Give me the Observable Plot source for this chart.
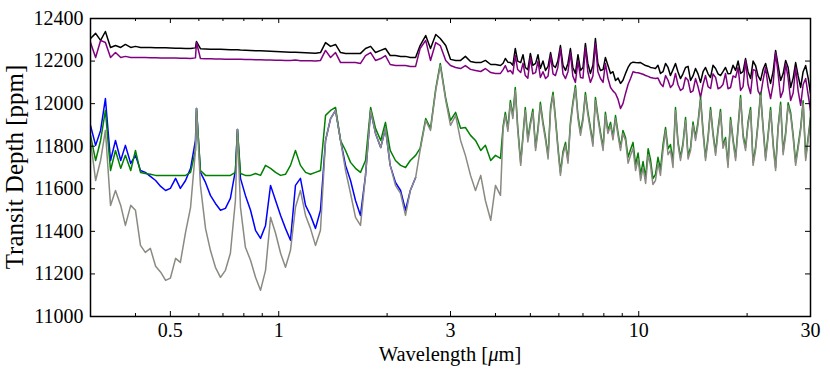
<!DOCTYPE html>
<html><head><meta charset="utf-8">
<script src="https://cdn.jsdelivr.net/npm/d3@7"></script>
<script src="https://cdn.jsdelivr.net/npm/@observablehq/plot@0.6"></script>
<style>body{margin:0;background:#fff;}</style>
</head><body><div id="chart"></div>
<script>
const wavelength = [
0.300,0.310,0.320,0.330,0.341,0.352,0.364,0.375,0.388,0.400,
0.413,0.426,0.440,0.455,0.470,0.485,0.500,0.517,0.533,0.551,
0.569,0.587,0.591,0.606,0.626,0.646,0.667,0.689,0.711,0.734,
0.758,0.768,0.783,0.808,0.835,0.862,0.890,0.919,0.949,0.980,
1.012,1.044,1.078,1.113,1.149,1.187,1.225,1.265,1.306,1.349,
1.393,1.438,1.485,1.533,1.583,1.634,1.687,1.742,1.800,1.857,
1.920,1.979,2.04,2.11,2.18,2.25,2.32,2.40,2.47,2.56,
2.64,2.73,2.81,2.91,3.00,3.10,3.20,3.30,3.41,3.52,
3.64,3.75,3.88,4.00,4.13,
4.20,4.26,4.33,4.40,4.47,4.54,4.61,4.70,4.77,4.84,
4.92,5.00,5.08,5.17,5.25,5.33,5.42,5.51,5.60,5.69,
5.78,5.87,5.96,6.06,6.16,6.26,6.36,6.46,6.56,6.67,
6.78,6.89,7.00,7.11,7.22,7.34,7.46,7.58,7.70,7.83,
7.96,8.08,8.21,8.35,8.48,8.62,8.76,8.90,9.04,9.19,
9.34,9.49,9.64,9.80,9.96,10.12,10.28,10.45,10.62,10.78,
10.95,11.13,11.31,11.49,11.68,11.87,12.06,12.25,12.45,12.65,
12.85,13.06,13.27,13.49,13.71,13.93,14.15,14.38,14.61,14.85,
15.09,15.33,15.58,15.83,16.08,16.35,16.61,16.87,17.14,17.42,
17.70,17.99,18.28,18.58,18.88,19.18,19.49,19.80,20.12,20.45,
20.78,21.11,21.45,21.80,22.15,22.51,22.87,23.24,23.62,24.00,
24.39,24.78,25.18,25.59,26.00,26.42,26.85,27.28,27.72,28.17,
28.62,29.09,29.56,30.00];

const blackDepth = [
12306,12330,12297,12339,12264,12273,12264,12278,12264,12269,
12264,12264,12264,12263,12262,12262,12261,12260,12260,12259,
12259,12262,12292,12258,12257,12256,12256,12255,12254,12253,
12253,12253,12252,12251,12250,12249,12248,12247,12246,12245,
12244,12243,12242,12241,12240,12239,12238,12237,12240,12287,
12269,12278,12240,12236,12236,12236,12236,12259,12269,12240,
12250,12259,12226,12226,12222,12222,12217,12217,12273,12320,
12259,12325,12306,12273,12208,12203,12203,12222,12198,12193,
12193,12203,12184,12184,12179,
12190,12212,12195,12193,12180,12259,12200,12193,12230,12170,
12160,12236,12180,12189,12230,12165,12200,12156,12175,12240,
12180,12170,12200,12273,12180,12156,12190,12259,12170,12142,
12230,12156,12170,12283,12190,12142,12180,12306,12190,12156,
12160,12217,12180,12142,12150,12109,12120,12095,12110,12142,
12170,12189,12195,12193,12192,12193,12186,12179,12176,12170,
12168,12165,12180,12142,12150,12189,12170,12132,12160,12189,
12150,12118,12140,12170,12175,12109,12130,12165,12140,12100,
12150,12170,12140,12123,12180,12165,12140,12132,12150,12170,
12140,12142,12180,12156,12200,12142,12150,12212,12150,12118,
12200,12179,12130,12109,12160,12189,12140,12095,12150,12250,
12180,12109,12140,12203,12170,12076,12120,12193,12130,12076,
12150,12179,12120,12048];

const purpleDepth = [
12287,12217,12297,12287,12217,12240,12217,12222,12217,12217,
12217,12217,12216,12216,12215,12215,12214,12214,12213,12213,
12212,12215,12287,12212,12211,12211,12210,12210,12209,12209,
12208,12208,12208,12207,12207,12206,12206,12205,12205,12204,
12204,12203,12203,12205,12202,12202,12201,12200,12203,12250,
12217,12240,12193,12193,12193,12193,12189,12226,12240,12203,
12212,12226,12184,12179,12179,12179,12175,12175,12259,12297,
12203,12287,12273,12203,12179,12170,12165,12179,12161,12156,
12151,12165,12146,12142,12142,
12160,12179,12150,12156,12140,12226,12160,12146,12190,12132,
12120,12217,12140,12146,12200,12123,12150,12118,12130,12226,
12140,12132,12170,12259,12140,12118,12150,12240,12130,12100,
12200,12123,12120,12264,12150,12100,12130,12283,12150,12118,
12100,12189,12120,12076,12060,12048,12020,11977,12000,12048,
12090,12118,12150,12146,12145,12142,12138,12132,12128,12123,
12120,12118,12120,12095,12080,12132,12110,12076,12090,12142,
12090,12062,12070,12123,12110,12053,12060,12118,12080,12029,
12090,12132,12080,12071,12140,12123,12070,12076,12090,12142,
12070,12076,12130,12123,12170,12062,12080,12203,12090,12048,
12160,12156,12060,12038,12110,12170,12080,12024,12090,12240,
12140,12029,12060,12189,12120,12015,12050,12170,12060,11992,
12090,12118,12040,11968];

const greenDepth = [
11851,11733,11827,11968,11686,11780,11696,11757,11686,11780,
11677,11672,11668,11663,11663,11663,11663,11663,11663,11663,
11677,11780,11977,11686,11663,11663,11663,11663,11663,11663,
11677,11879,11672,11663,11663,11672,11663,11710,11696,11677,
11663,11668,11710,11780,11710,11677,11668,11677,11686,11945,
11968,11982,11827,11780,11724,11696,11677,11733,11982,11884,
11827,11912,11780,11733,11710,11700,11733,11757,11790,11930,
11884,12071,12189,12024,11921,11959,11884,11888,11851,11827,
11780,11804,11733,11757,11743,
11894,11959,11884,12015,11944,12076,11894,11724,11854,11982,
11834,11912,11974,11794,11884,12006,11914,11841,11754,11982,
12054,11935,11804,11677,11774,11818,11734,11912,12004,12085,
11944,11865,11934,12052,11964,11888,11814,12029,11944,11865,
11794,11959,11874,11912,11844,11944,11864,11794,11874,11841,
11748,11785,11818,11714,11768,11667,11728,11653,11788,11738,
11648,11667,11748,11691,11808,11888,11788,11808,11728,11982,
11824,11747,11814,11935,11754,11794,11914,11841,11914,12029,
11874,11747,11844,11982,11864,11771,11884,11973,11804,11841,
11714,11935,11834,11747,11894,12038,11854,11794,11914,11982,
11724,11794,11914,12052,11894,11747,11854,11982,11814,11700,
11894,12006,11774,11865,12004,11959,11854,11724,11804,11888,
12014,11747,11844,11935];

const blueDepth = [
11898,11804,11874,12024,11733,11827,11733,11804,11719,11757,
11686,11677,11658,11639,11611,11592,11602,11649,11602,11639,
11696,11827,11977,11677,11630,11569,11531,11499,11508,11555,
11686,11879,11649,11569,11499,11405,11367,11428,11616,11545,
11475,11414,11358,11616,11649,11522,11475,11414,11499,11827,
11930,11968,11827,11710,11639,11545,11475,11663,11968,11860,
11794,11884,11710,11630,11592,11499,11592,11653];

const grayDepth = [
11827,11639,11733,11874,11522,11592,11522,11428,11522,11499,
11334,11301,11320,11236,11208,11170,11180,11273,11254,11395,
11513,11780,11977,11616,11414,11311,11231,11184,11217,11297,
11545,11879,11513,11325,11264,11184,11123,11217,11466,11391,
11297,11231,11311,11513,11592,11475,11414,11334,11405,11827,
11930,11968,11827,11686,11578,11466,11428,11663,11968,11860,
11794,11884,11710,11616,11578,11475,11592,11653,11780,11921,
11874,12062,12179,12015,11898,11945,11827,11757,11663,11592,
11663,11545,11452,11616,11569,
11880,11945,11870,12001,11930,12062,11880,11710,11840,11968,
11820,11898,11960,11780,11870,11992,11900,11827,11740,11968,
12040,11921,11790,11663,11760,11804,11720,11898,11990,12071,
11930,11851,11920,12038,11950,11874,11800,12015,11930,11851,
11780,11945,11860,11898,11830,11930,11850,11780,11860,11827,
11720,11757,11790,11686,11740,11639,11700,11625,11760,11710,
11620,11639,11720,11663,11780,11874,11760,11780,11700,11968,
11810,11733,11800,11921,11740,11780,11900,11827,11900,12015,
11860,11733,11830,11968,11850,11757,11870,11959,11790,11827,
11700,11921,11820,11733,11880,12024,11840,11780,11900,11968,
11710,11780,11900,12038,11880,11733,11840,11968,11800,11686,
11880,11992,11760,11851,11990,11945,11840,11710,11790,11874,
12000,11733,11830,11921];

const xTickValues = [0.5, 1, 3, 10, 30];
const xMinorValues = [0.4, 0.6, 0.7, 0.8, 0.9, 2, 4, 5, 6, 7, 8, 9, 20];
const yTickValues = [11000, 11200, 11400, 11600, 11800, 12000, 12200, 12400];

const series = (vals) => vals.map((v, i) => ({w: wavelength[i], v}));
const lineOpts = (color) => ({x: "w", y: "v", stroke: color, strokeWidth: 1.5, clip: true});

const chart = Plot.plot({
  width: 830,
  height: 375,
  marginLeft: 90,
  marginRight: 20,
  marginTop: 18,
  marginBottom: 59,
  style: {fontFamily: "'Liberation Serif', 'Times New Roman', serif", fontSize: "20px", background: "#fff", color: "#000"},
  x: {type: "log", domain: [0.3, 30], axis: null},
  y: {domain: [11000, 12400], axis: null},
  marks: [
    Plot.line(series(blackDepth), lineOpts("#000000")),
    Plot.line(series(purpleDepth), lineOpts("#800080")),
    Plot.line(series(blueDepth), lineOpts("#0000ff")),
    Plot.line(series(greenDepth), lineOpts("#008000")),
    Plot.line(series(grayDepth), lineOpts("#8a8a82")),
    Plot.frame({stroke: "#000", strokeWidth: 1.5}),
    Plot.tickX(xTickValues, {x: d => d, insetTop: 293, strokeWidth: 1}),
    Plot.tickX(xTickValues, {x: d => d, insetBottom: 293, strokeWidth: 1}),
    Plot.tickX(xMinorValues, {x: d => d, insetTop: 295, strokeWidth: 1}),
    Plot.tickX(xMinorValues, {x: d => d, insetBottom: 295, strokeWidth: 1}),
    Plot.tickY(yTickValues, {y: d => d, insetRight: 715, strokeWidth: 1}),
    Plot.tickY(yTickValues, {y: d => d, insetLeft: 715, strokeWidth: 1}),
    Plot.text(xTickValues, {x: d => d, text: d => String(d), frameAnchor: "bottom", lineAnchor: "top", dy: 6, fontSize: 20}),
    Plot.text(yTickValues, {y: d => d, text: d => String(d), frameAnchor: "left", textAnchor: "end", dx: -7, fontSize: 20})
  ]
});

document.getElementById("chart").appendChild(chart);

const svg = d3.select(chart);
const xl = svg.append("text")
  .attr("x", 450).attr("y", 361)
  .attr("text-anchor", "middle")
  .attr("font-size", 20.5)
  .attr("fill", "#000");
xl.append("tspan").text("Wavelength [");
xl.append("tspan").attr("font-style", "italic").text("μ");
xl.append("tspan").text("m]");

svg.append("text")
  .attr("transform", "translate(23,167) rotate(-90)")
  .attr("text-anchor", "middle")
  .attr("font-size", 25)
  .attr("fill", "#000")
  .text("Transit Depth [ppm]");
</script>
</body></html>
